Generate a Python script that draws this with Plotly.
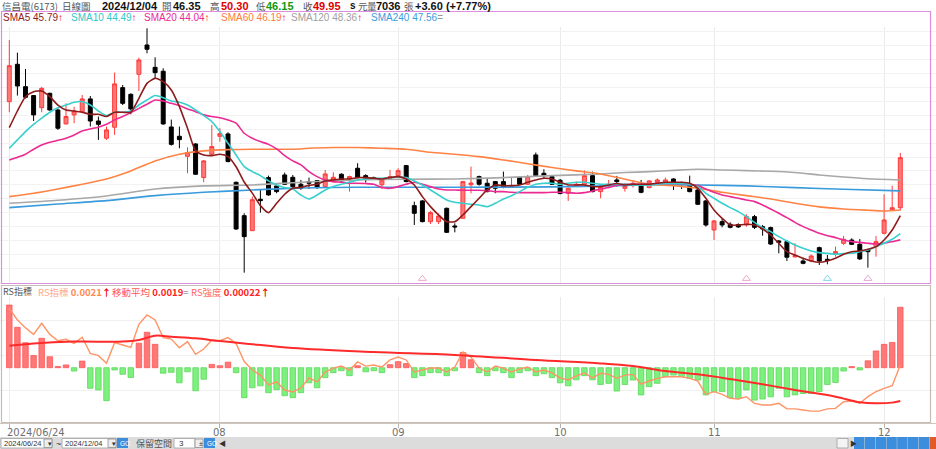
import plotly.graph_objects as go

# ---------------- data ----------------
opens = [53.98, 56.67, 55.06, 54.42, 53.55, 54.58, 53.38, 52.38, 53.03, 53.26,
         54.18, 52.59, 51.35, 52.14, 54.99, 54.51, 55.95, 58.06, 56.45, 56.17,
         52.16, 51.49, 50.05, 50.94, 48.52, 50.20, 51.49, 51.66, 48.18, 45.78,
         44.70, 46.96, 48.52, 47.92, 48.71, 48.54, 48.04, 48.23, 48.30, 47.87,
         48.23, 48.76, 48.42, 49.19, 48.66, 48.52, 48.00, 48.47, 48.66, 49.38,
         46.50, 46.84, 45.35, 45.35, 46.31, 45.04, 45.59, 48.00, 48.59, 48.11,
         48.23, 48.23, 47.82, 48.54, 48.04, 50.15, 48.83, 48.59, 48.33, 47.39,
         47.94, 48.04, 48.66, 47.51, 47.94, 48.35, 47.75, 47.94, 47.94, 47.80,
         48.18, 48.11, 48.42, 48.16, 48.04, 47.63, 46.84, 44.75, 45.35, 45.16,
         45.14, 45.11, 45.71, 44.99, 44.92, 43.96, 43.91, 42.81, 42.52, 42.52,
         43.48, 42.64, 43.00, 43.79, 44.03, 43.72, 43.31, 43.55, 44.51, 46.19,
         46.35]
highs = [58.42, 57.51, 56.33, 54.46, 55.04, 54.63, 53.50, 53.86, 53.62, 54.46,
         54.39, 52.91, 52.19, 56.07, 55.18, 54.58, 57.15, 59.26, 57.17, 56.38,
         52.69, 52.19, 50.70, 50.99, 49.79, 52.31, 52.07, 51.78, 48.23, 45.95,
         47.15, 47.68, 48.66, 48.04, 48.88, 48.71, 48.35, 48.52, 48.35, 49.07,
         48.90, 48.83, 48.66, 49.55, 48.76, 48.59, 48.47, 49.07, 49.19, 49.43,
         46.79, 46.91, 46.12, 45.95, 46.36, 45.23, 48.28, 49.31, 48.66, 48.47,
         48.28, 48.95, 48.52, 48.59, 48.71, 50.32, 49.12, 48.71, 48.42, 47.80,
         48.23, 49.04, 48.95, 47.99, 48.35, 48.64, 48.11, 48.33, 48.35, 48.33,
         48.47, 48.52, 48.47, 48.23, 48.66, 47.75, 46.91, 45.47, 45.54, 45.30,
         45.23, 45.88, 45.83, 45.11, 44.99, 44.03, 44.03, 43.79, 42.71, 43.00,
         43.55, 42.95, 43.55, 44.32, 44.15, 44.10, 43.38, 44.32, 47.32, 47.94,
         50.30]
lows = [53.22, 54.42, 54.20, 52.59, 53.22, 53.34, 51.95, 52.35, 52.43, 53.14,
        52.19, 51.23, 51.23, 51.59, 53.74, 53.07, 54.75, 57.46, 55.66, 52.31,
        50.82, 50.63, 48.83, 48.71, 48.18, 50.10, 51.11, 49.62, 44.75, 41.68,
        44.68, 46.00, 47.22, 47.39, 47.99, 47.75, 47.63, 47.70, 47.70, 47.82,
        48.18, 48.23, 47.51, 48.47, 48.16, 48.35, 47.70, 48.42, 48.59, 48.18,
        45.11, 45.30, 45.18, 45.18, 44.54, 44.58, 45.54, 47.39, 47.94, 47.46,
        47.39, 47.75, 47.80, 47.99, 47.99, 48.59, 48.42, 47.99, 47.32, 46.84,
        47.87, 47.94, 47.46, 47.03, 47.75, 47.87, 47.51, 47.80, 47.39, 47.75,
        48.11, 48.04, 47.63, 47.70, 47.46, 46.55, 44.99, 44.03, 44.94, 44.87,
        44.90, 44.99, 44.82, 44.34, 43.67, 43.07, 42.52, 42.79, 42.28, 42.43,
        42.23, 42.28, 42.83, 43.67, 43.67, 42.59, 42.04, 42.83, 44.44, 46.14,
        46.15]
closes = [56.57, 55.11, 54.30, 53.03, 54.94, 53.38, 52.07, 52.91, 53.31, 54.18,
          52.59, 52.35, 51.95, 55.26, 53.86, 53.46, 56.98, 57.75, 56.07, 52.38,
          50.91, 51.25, 50.32, 48.76, 49.72, 50.75, 51.68, 49.67, 44.82, 44.27,
          46.93, 46.86, 47.27, 47.51, 48.04, 47.87, 47.75, 48.11, 47.80, 48.78,
          48.54, 48.28, 48.59, 48.52, 48.47, 48.42, 48.35, 48.59, 49.02, 48.23,
          45.95, 45.35, 46.00, 45.76, 44.58, 44.97, 48.23, 48.13, 48.04, 47.51,
          47.75, 47.82, 47.94, 48.04, 48.59, 48.66, 48.66, 48.04, 47.37, 47.75,
          48.04, 48.66, 47.51, 47.87, 48.04, 48.23, 47.92, 48.11, 47.46, 48.28,
          48.35, 48.35, 48.06, 48.04, 47.51, 46.60, 45.11, 45.40, 45.11, 44.94,
          44.97, 45.71, 44.94, 44.82, 43.74, 43.86, 42.79, 42.91, 42.35, 42.88,
          42.52, 42.55, 43.19, 44.08, 43.72, 42.67, 43.19, 43.91, 45.47, 46.35,
          49.95]
days = list(range(len(closes)))

sma5 = [52.11, 53.31, 54.34, 54.70, 54.75, 54.34, 53.74, 53.38, 53.31, 53.22,
        53.07, 53.07, 52.91, 53.22, 53.22, 53.22, 54.22, 55.30, 55.66, 55.42,
        54.82, 53.62, 52.07, 50.44, 50.15, 50.10, 50.20, 50.03, 49.30, 48.20,
        47.40, 46.50, 46.00, 46.67, 47.32, 47.75, 47.82, 47.96, 48.04, 48.28,
        48.35, 48.42, 48.42, 48.52, 48.52, 48.47, 48.42, 48.52, 48.59, 48.42,
        47.99, 47.15, 46.43, 45.83, 45.35, 45.35, 45.83, 46.43, 47.03, 47.63,
        47.99, 47.94, 47.94, 47.99, 48.18, 48.35, 48.47, 48.42, 48.18, 47.99,
        47.99, 47.99, 47.87, 47.87, 47.99, 48.09, 47.99, 48.04, 48.04, 48.04,
        48.11, 48.18, 48.18, 48.18, 48.11, 47.75, 47.03, 46.19, 45.59, 45.11,
        45.11, 45.16, 45.11, 44.82, 44.39, 43.79, 43.19, 42.95, 42.71, 42.52,
        42.43, 42.52, 42.71, 43.00, 43.19, 43.24, 43.36, 43.55, 44.03, 44.75,
        45.79]
sma10 = [50.63, 51.23, 51.83, 52.35, 52.79, 53.22, 53.55, 53.74, 53.94, 53.98,
         53.74, 53.31, 52.98, 53.22, 53.22, 53.31, 53.74, 54.10, 54.42, 54.27,
         54.03, 53.94, 53.74, 53.38, 52.98, 52.55, 51.83, 50.99, 50.15, 49.31,
         48.95, 48.66, 48.28, 47.99, 47.80, 47.70, 47.27, 46.98, 47.27, 47.63,
         47.87, 48.04, 48.18, 48.35, 48.42, 48.47, 48.47, 48.52, 48.56, 48.52,
         48.28, 47.99, 47.63, 47.27, 46.91, 46.74, 46.67, 46.60, 46.55, 46.43,
         46.67, 46.98, 47.22, 47.51, 47.82, 48.04, 48.11, 48.11, 48.04, 48.11,
         48.18, 48.18, 48.11, 48.04, 48.04, 48.04, 48.04, 47.99, 47.99, 47.99,
         48.04, 48.09, 48.09, 48.09, 48.04, 47.87, 47.39, 47.03, 46.67, 46.36,
         46.07, 45.71, 45.30, 44.92, 44.63, 44.27, 43.96, 43.67, 43.43, 43.24,
         43.12, 43.07, 43.00, 43.05, 43.07, 43.19, 43.31, 43.55, 43.79, 44.08,
         44.49]
sma20 = [49.79, 49.98, 50.20, 50.56, 50.87, 51.06, 51.20, 51.35, 51.59, 51.87,
         52.02, 52.14, 52.35, 52.67, 52.91, 53.19, 53.50, 53.79, 54.10, 54.03,
         53.86, 53.70, 53.46, 53.26, 53.03, 52.91, 52.83, 52.67, 52.43, 51.71,
         51.35, 51.11, 50.91, 50.58, 50.10, 49.72, 49.43, 48.95, 48.59, 48.35,
         48.23, 48.18, 48.11, 48.11, 48.09, 48.04, 47.80, 47.75, 47.87, 48.04,
         48.18, 48.04, 47.87, 47.70, 47.63, 47.63, 47.61, 47.61, 47.61, 47.58,
         47.51, 47.51, 47.46, 47.44, 47.44, 47.44, 47.44, 47.46, 47.46, 47.44,
         47.39, 47.44, 47.56, 47.70, 47.80, 47.97, 48.04, 48.04, 48.04, 48.04,
         48.09, 48.09, 48.09, 48.09, 48.04, 47.94, 47.70, 47.46, 47.27, 47.15,
         47.03, 46.91, 46.79, 46.55, 46.26, 45.95, 45.64, 45.30, 44.99, 44.75,
         44.51, 44.34, 44.20, 44.03, 43.91, 43.86, 43.79, 43.74, 43.79, 43.91,
         44.04]
sma60_days = [0, 3, 6, 9, 12, 15, 18, 21, 24, 27, 30, 33, 36, 37, 40, 43, 46, 49, 52,
              55, 58, 61, 64, 67, 70, 73, 76, 79, 82, 85, 88, 91, 94, 97, 100, 103,
              106, 108, 110]
sma60 = [47.15, 47.39, 47.70, 48.04, 48.42, 49.00, 49.72, 50.20, 50.44, 50.53, 50.56,
         50.56, 50.58, 50.63, 50.68, 50.68, 50.63, 50.56, 50.34, 50.20, 50.03, 49.79,
         49.52, 49.24, 49.00, 48.78, 48.40, 48.04, 47.94, 47.75, 47.46, 47.22, 46.98,
         46.67, 46.41, 46.26, 46.17, 46.12, 46.19]
sma120_days = [0, 6, 12, 18, 24, 30, 36, 43, 49, 55, 61, 67, 73, 76, 79, 82, 85, 88,
               91, 94, 97, 100, 103, 106, 110]
sma120 = [46.67, 46.89, 47.20, 47.70, 47.92, 47.99, 48.18, 48.35, 48.40, 48.42, 48.52,
          48.66, 48.78, 48.88, 48.95, 49.04, 49.12, 49.07, 49.02, 48.97, 48.88, 48.71,
          48.56, 48.44, 48.36]
sma240_days = [0, 6, 12, 18, 24, 30, 36, 43, 55, 67, 75, 79, 85, 91, 97, 103, 110]
sma240 = [46.36, 46.62, 46.86, 47.22, 47.46, 47.63, 47.77, 47.82, 47.82, 47.85, 47.94,
          48.01, 47.99, 47.92, 47.80, 47.68, 47.56]

rs_line = [0.002415, 0.002350, 0.002307, 0.002270, 0.002332, 0.002270, 0.002235, 0.002243,
           0.002220, 0.002254, 0.002165, 0.002152, 0.002109, 0.002224, 0.002211, 0.002198,
           0.002326, 0.002378, 0.002350, 0.002252, 0.002244, 0.002196, 0.002230, 0.002159,
           0.002189, 0.002239, 0.002235, 0.002252, 0.002220, 0.002119,
           0.002072, 0.002044, 0.001989, 0.002006, 0.001961, 0.001950, 0.001972, 0.002028,
           0.002006, 0.002061, 0.002083, 0.002094, 0.002072, 0.002117, 0.002094, 0.002100,
           0.002089, 0.002128, 0.002144, 0.002128, 0.002061, 0.002072, 0.002083, 0.002083,
           0.002061, 0.002089, 0.002172, 0.002144, 0.002083, 0.002061, 0.002094, 0.002083,
           0.002061, 0.002078, 0.002089, 0.002061, 0.002072, 0.002056, 0.002028, 0.002017,
           0.002039, 0.002056, 0.002028,
           0.002054, 0.002048, 0.002026, 0.002044, 0.002048, 0.001993, 0.002011, 0.002026,
           0.002035, 0.002035, 0.002035, 0.002026, 0.002011, 0.001937, 0.001952, 0.001937,
           0.001915, 0.001911, 0.001924, 0.001887, 0.001878, 0.001878, 0.001887, 0.001856,
           0.001856, 0.001850, 0.001844, 0.001844, 0.001856, 0.001859, 0.001896, 0.001900,
           0.001887, 0.001924, 0.001952, 0.001970, 0.001985, 0.002100]
rs_ma_days = [0, 3, 8, 14, 16, 18, 20, 23, 26, 29, 35, 45, 55, 65, 73, 77, 81, 85, 89,
              93, 97, 102, 105, 107, 109, 110]
rs_ma = [0.002207, 0.002220, 0.002230, 0.002230, 0.002239, 0.002263, 0.002257, 0.002248,
         0.002233, 0.002220, 0.002194, 0.002172, 0.002156, 0.002128, 0.002109, 0.002094,
         0.002067, 0.002048, 0.002022, 0.001993, 0.001961, 0.001924, 0.001893, 0.001887,
         0.001891, 0.001900]
rs_strength = [0.000228, 0.000147, 0.000091, 0.000044, 0.000107, 0.000040, 0.000004, 0.000010,
               -0.000012, 0.000024, -0.000075, -0.000081, -0.000120, -0.000008, -0.000024,
               -0.000036, 0.000089, 0.000129, 0.000085, -0.000020, -0.000017, -0.000055,
               -0.000015, -0.000084, -0.000042, 0.000012, 0.000007, 0.000020, -0.000018,
               -0.000109,
               -0.000073, -0.000066, -0.000091, -0.000080, -0.000102, -0.000109, -0.000091,
               -0.000055, -0.000073, -0.000036, -0.000018, -0.000011, -0.000029, 0.000007,
               -0.000015, -0.000011, -0.000018, 0.000011, 0.000022, 0.000015, -0.000036,
               -0.000029, -0.000018, -0.000018, -0.000029, -0.000011, 0.000055, 0.000029,
               -0.000018, -0.000029, -0.000011, -0.000018, -0.000036, -0.000018, -0.000011,
               -0.000029, -0.000022, -0.000036, -0.000055, -0.000066, -0.000044, -0.000029,
               -0.000044,
               -0.000061, -0.000057, -0.000085, -0.000061, -0.000045, -0.000099, -0.000069,
               -0.000057, -0.000033, -0.000027, -0.000033, -0.000039, -0.000045, -0.000099,
               -0.000087, -0.000087, -0.000109, -0.000112, -0.000081, -0.000118, -0.000114,
               -0.000106, -0.000075, -0.000106, -0.000099, -0.000094, -0.000094, -0.000087,
               -0.000061, -0.000054, -0.000012, 0.000004, -0.000008, 0.000025, 0.000061,
               0.000085, 0.000092, 0.000220]

tick_days = [0, 26, 48, 68, 87, 108]
tick_labels = ["2024/06/24", "08", "09", "10", "11", "12"]
signal_days = [51, 91, 101, 106]
signal_colors = ["#F0A8C8", "#F0A8C8", "#80D8E8", "#E8A8D0"]

# ---------------- figure ----------------
W, H = 936, 449
def px(x):
    return x / W
def py(y):
    return 1 - y / H

fig = go.Figure()

fig.add_trace(go.Candlestick(
    x=days, open=opens, high=highs, low=lows, close=closes,
    increasing=dict(line=dict(color="#FF3A3A", width=1), fillcolor="#FF7878"),
    decreasing=dict(line=dict(color="#000000", width=1), fillcolor="#000000"),
    whiskerwidth=0, xaxis="x", yaxis="y", hoverinfo="skip"))

for xs, ys, col, w in [
    (sma240_days, sma240, "#3A9BDC", 1.6),
    (sma120_days, sma120, "#A8A8A8", 1.6),
    (sma60_days, sma60, "#FF8345", 1.6),
    (days, sma20, "#EC2A92", 1.6),
    (days, sma10, "#38CFCF", 1.6),
    (days, sma5, "#8E1B1B", 1.6),
]:
    fig.add_trace(go.Scatter(x=xs, y=ys, mode="lines", line=dict(color=col, width=w, shape="spline", smoothing=0.6),
                             xaxis="x", yaxis="y", hoverinfo="skip"))

fig.add_trace(go.Scatter(x=signal_days, y=[41.25] * len(signal_days), mode="markers",
                         marker=dict(symbol="triangle-up-open", size=7, color=signal_colors, line=dict(width=1)),
                         xaxis="x", yaxis="y", hoverinfo="skip"))

# lower panel
bar_fill = ["#FF7878" if v >= 0 else "#7DF07D" for v in rs_strength]
bar_line = ["#FF5555" if v >= 0 else "#5CD85C" for v in rs_strength]
fig.add_trace(go.Bar(x=days, y=rs_strength, width=0.68, marker=dict(color=bar_fill, line=dict(color=bar_line, width=0.8)),
                     xaxis="x2", yaxis="y3", hoverinfo="skip"))
fig.add_trace(go.Scatter(x=days, y=rs_line, mode="lines", line=dict(color="#FF9466", width=1.4),
                         xaxis="x2", yaxis="y4", hoverinfo="skip"))
fig.add_trace(go.Scatter(x=rs_ma_days, y=rs_ma, mode="lines", line=dict(color="#FF2B2B", width=2, shape="spline"),
                         xaxis="x2", yaxis="y4", hoverinfo="skip"))

xr = [-9.3 / 8.1, (936 - 9.3) / 8.1]
common_x = dict(range=xr, domain=[0, 1], tickvals=tick_days, showgrid=True, gridcolor="#EAEAEA",
                gridwidth=1, zeroline=False, fixedrange=True)
price_grid = list(range(41, 60))
h_px = 3.64e-6
fig.update_layout(
    width=W, height=H, margin=dict(l=0, r=0, t=0, b=0),
    paper_bgcolor="white", plot_bgcolor="white", showlegend=False,
    font=dict(family="Liberation Sans, Noto Sans CJK TC, sans-serif"),
    bargap=0.3,
    xaxis=dict(**common_x, anchor="y", showticklabels=False, rangeslider=dict(visible=False)),
    yaxis=dict(domain=[py(283), py(27)], range=[49.95 - (283 - 157.7) / 13.9, 49.95 + (157.7 - 27) / 13.9],
               tickvals=price_grid, showticklabels=False, showgrid=True, gridcolor="#F2F2F2", zeroline=False),
    xaxis2=dict(**common_x, anchor="y3", showticklabels=False,
                ticks="outside", ticklen=4, tickcolor="#B8B0AA", showline=True, linecolor="#CFC6BF"),
    yaxis3=dict(domain=[py(422.5), py(297)], range=[-(422.5 - 367.7) * h_px, (367.7 - 297) * h_px],
                tickvals=[(367.7 - 320) * h_px, (367.7 - 355) * h_px, (367.7 - 390) * h_px],
                showticklabels=False, showgrid=True, gridcolor="#F0F0F0", zeroline=False),
    yaxis4=dict(overlaying="y3", anchor="x2", range=[0.0021 - 57.5 * 5.556e-6, 0.0021 + 68 * 5.556e-6],
                showticklabels=False, showgrid=False, zeroline=False),
)

shapes = []
# panel borders
shapes.append(dict(type="rect", xref="paper", yref="paper", x0=px(1.5), x1=px(930.5), y0=py(283.5), y1=py(11.5),
                   line=dict(color="#DD8FDD", width=1.2), layer="above"))
shapes.append(dict(type="rect", xref="paper", yref="paper", x0=px(1.5), x1=px(930.5), y0=py(422.5), y1=py(285.5),
                   line=dict(color="#C4BCB6", width=1.2), layer="above"))
# bottom control bar
shapes.append(dict(type="rect", xref="paper", yref="paper", x0=0, x1=1, y0=0, y1=py(437),
                   line=dict(width=0), fillcolor="#DCDCDC", layer="above"))
for x0, x1, fc in [(1, 52, "white"), (62, 116, "white"), (174, 195, "white"), (837, 848, "#F4F4F4")]:
    shapes.append(dict(type="rect", xref="paper", yref="paper", x0=px(x0), x1=px(x1), y0=py(448), y1=py(438.5),
                       line=dict(color="#A0A0A0", width=0.8), fillcolor=fc, layer="above"))
for x0, x1 in [(44, 52), (108, 116), (195, 203)]:
    shapes.append(dict(type="rect", xref="paper", yref="paper", x0=px(x0), x1=px(x1), y0=py(447.5), y1=py(439),
                       line=dict(color="#909090", width=0.8), fillcolor="#EDEDED", layer="above"))
for x0 in [117, 204]:
    shapes.append(dict(type="rect", xref="paper", yref="paper", x0=px(x0), x1=px(x0 + 11), y0=py(448), y1=py(438),
                       line=dict(width=0), fillcolor="#3C8EDC", layer="above"))
for k in range(8):
    x0 = 850 + k * 10.8 + 4
    col = "#3C8EDC" if k < 7 else "#E25A2A"
    shapes.append(dict(type="rect", xref="paper", yref="paper", x0=px(x0), x1=px(x0 + 10.4), y0=py(449), y1=py(437),
                       line=dict(width=0), fillcolor=col, layer="above"))
fig.update_layout(shapes=shapes)

ann = []
def txt(x, y, t, size=10, color="#444444", family=None):
    d = dict(xref="paper", yref="paper", x=px(x), y=py(y), text=t, showarrow=False,
             xanchor="left", yanchor="middle", font=dict(size=size, color=color))
    if family:
        d["font"]["family"] = family
    ann.append(d)

# header row
cjk = "Noto Sans CJK TC"
txt(0, 6, "信昌電(6173)", 9.5, "#555555", cjk)
txt(60, 6, "日線圖", 9.5, "#555555", cjk)
txt(100, 6, "<b>2024/12/04</b>", 11, "#111111")
txt(160, 6, "開", 9.5, "#555555", cjk)
txt(171, 6, "<b>46.35</b>", 11, "#111111")
txt(208, 6, "高", 9.5, "#555555", cjk)
txt(219, 6, "<b>50.30</b>", 11, "#E00000")
txt(254, 6, "低", 9.5, "#555555", cjk)
txt(264, 6, "<b>46.15</b>", 11, "#119911")
txt(301, 6, "收", 9.5, "#555555", cjk)
txt(311, 6, "<b>49.95</b>", 11, "#E00000")
txt(348, 6, "<b>s</b>", 10, "#111111")
txt(356, 6, "元", 9.5, "#555555", cjk)
txt(365, 6, "量", 9.5, "#555555", cjk)
txt(374, 6, "<b>7036</b>", 11, "#111111")
txt(402, 6, "張", 9.5, "#555555", cjk)
txt(413, 6, "<b>+3.60 (+7.77%)</b>", 11, "#111111")

# SMA legend row
up = "<span style='color:#EE0000'><b>↑</b></span>"
eq = "<span style='color:#999999'>=</span>"
for x, name, val, col, tail in [
    (1, "SMA5", "45.79", "#8E1B1B", up), (69, "SMA10", "44.49", "#30C8C8", up),
    (142, "SMA20", "44.04", "#EC2A92", up), (219, "SMA60", "46.19", "#FF7A3A", up),
    (289, "SMA120", "48.36", "#A0A0A0", up), (369, "SMA240", "47.56", "#3A9BDC", eq)]:
    txt(x, 17.5, f"<span style='color:{col}'>{name} {val}</span>{tail}", 10, col)

# lower legend
txt(1, 291.5, "RS指標", 9, "#555555", cjk)
txt(36, 291.5, "<span style='color:#FFA888'>RS指標</span> <b>0.0021</b>" + up, 9.5, "#FF8A55", cjk)
txt(110, 291.5, "<span style='color:#FF5555'>移動平均</span> <b>0.0019</b>" + eq, 9.5, "#FF2222", cjk)
txt(189, 291.5, "<span style='color:#FF6666'>RS強度</span> <b>0.00022</b>" + up, 9.5, "#FF2222", cjk)

# date tick labels (placed at the tick positions of the lower x axis)
ann.append(dict(xref="paper", yref="paper", x=px(5), y=py(432), text=tick_labels[0], showarrow=False,
                xanchor="left", yanchor="middle", font=dict(size=10, color="#707070", family="DejaVu Sans")))
for d, lab in zip(tick_days[1:], tick_labels[1:]):
    ann.append(dict(xref="x2", yref="paper", x=d, y=py(432), text=lab, showarrow=False,
                    xanchor="center", yanchor="middle", font=dict(size=10, color="#707070", family="DejaVu Sans")))

# control bar texts
txt(2, 443.5, "2024/06/24", 7.5, "#333333")
txt(46, 443.5, "▾", 7, "#333333")
txt(54, 443.5, "~", 9, "#333333")
txt(63, 443.5, "2024/12/04", 7.5, "#333333")
txt(110, 443.5, "▾", 7, "#333333")
txt(118, 443.5, "GO", 6.5, "white")
txt(134, 443.5, "保留空間", 9, "#555555", cjk)
txt(177, 443.5, "3", 8, "#333333")
txt(197, 443.5, "±", 7, "#333333")
txt(205, 443.5, "GO", 6.5, "white")
txt(217, 443.5, "◀", 7, "#333333")
txt(848, 443.5, "▶", 7, "#333333")

fig.update_layout(annotations=ann)
fig.write_html("out.html", config={"displayModeBar": False, "staticPlot": True},
               post_script="document.body.style.margin='0';document.body.style.overflow='hidden';")
